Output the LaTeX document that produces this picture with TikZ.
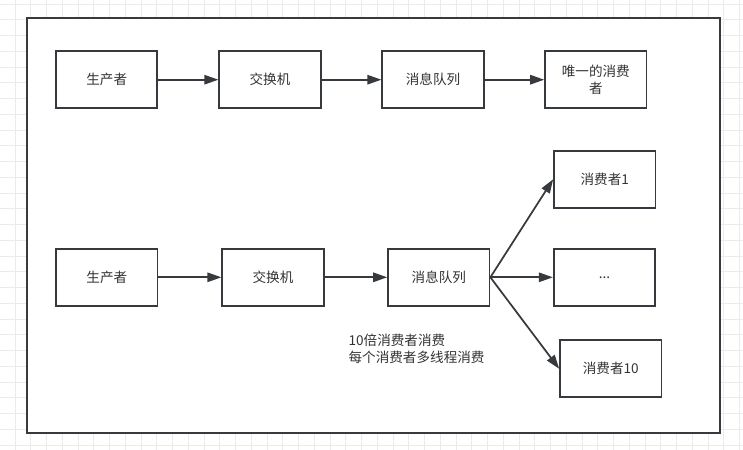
\documentclass[tikz,border=0pt]{standalone}
\usepackage{fontspec}
\setmainfont{Noto Sans CJK SC}
\usetikzlibrary{arrows.meta}
\definecolor{strokegray}{HTML}{36393D}
\definecolor{textgray}{HTML}{333333}
\definecolor{gridgray}{HTML}{EBEBEB}

\begin{document}
\begin{tikzpicture}[x=0.75pt, y=-0.75pt,
  box/.style={draw=strokegray, line width=1.4pt, fill=white,
    minimum width=76pt, minimum height=42.75pt, inner sep=2pt,
    text=textgray, font=\fontsize{10.2}{12.5}\selectfont, align=center},
  note/.style={text=textgray, font=\fontsize{10.2}{12.75}\selectfont, align=left, inner sep=0pt},
  flow/.style={draw=strokegray, line width=1.3pt, -{Triangle[length=10.5pt, width=7pt]}}]

  % background grid
  \useasboundingbox (0,0) rectangle (743,450);
  \clip (0,0) rectangle (743,450);
  \fill[white] (0,0) rectangle (743,450);
  \foreach \k in {0,...,47}
    \draw[gridgray, line width=0.75pt] ({-0.7+15.75*\k},0) -- ({-0.7+15.75*\k},450);
  \foreach \k in {0,...,28}
    \draw[gridgray, line width=0.75pt] (0,{4+15.75*\k}) -- (743,{4+15.75*\k});

  % outer frame
  \draw[strokegray, line width=1.4pt, fill=white] (27.3,18.3) rectangle (720,433.3);

  % single consumer
  \node[box] (prodA)  at (106.7,79.7) {生产者};
  \node[box] (exchA)  at (270,79.7)   {交换机};
  \node[box] (queueA) at (433,79.7)   {消息队列};
  \node[box] (consA)  at (595.8,79.7) {唯一的消费\\者};

  \draw[flow] (prodA) -- (exchA);
  \draw[flow] (exchA) -- (queueA);
  \draw[flow] (queueA) -- (consA);

  % many consumers
  \node[box] (prodB)  at (106.8,277.3) {生产者};
  \node[box] (exchB)  at (273,277.3)   {交换机};
  \node[box] (queueB) at (438.8,277.3) {消息队列};
  \node[box] (consB1) at (604.8,179.2) {消费者1};
  \node[box] (consB2) at (604.5,277.3) {...};
  \node[box] (consB3) at (610.8,368.8) {消费者10};

  \draw[flow] (prodB) -- (exchB);
  \draw[flow] (exchB) -- (queueB);
  \draw[flow] (queueB.east) -- (consB1.west);
  \draw[flow] (queueB.east) -- (consB2.west);
  \draw[flow] (queueB.east) -- (consB3.west);

  \node[note, anchor=west] (remark) at (348.3,349) {10倍消费者消费\\每个消费者多线程消费};
\end{tikzpicture}
\end{document}
